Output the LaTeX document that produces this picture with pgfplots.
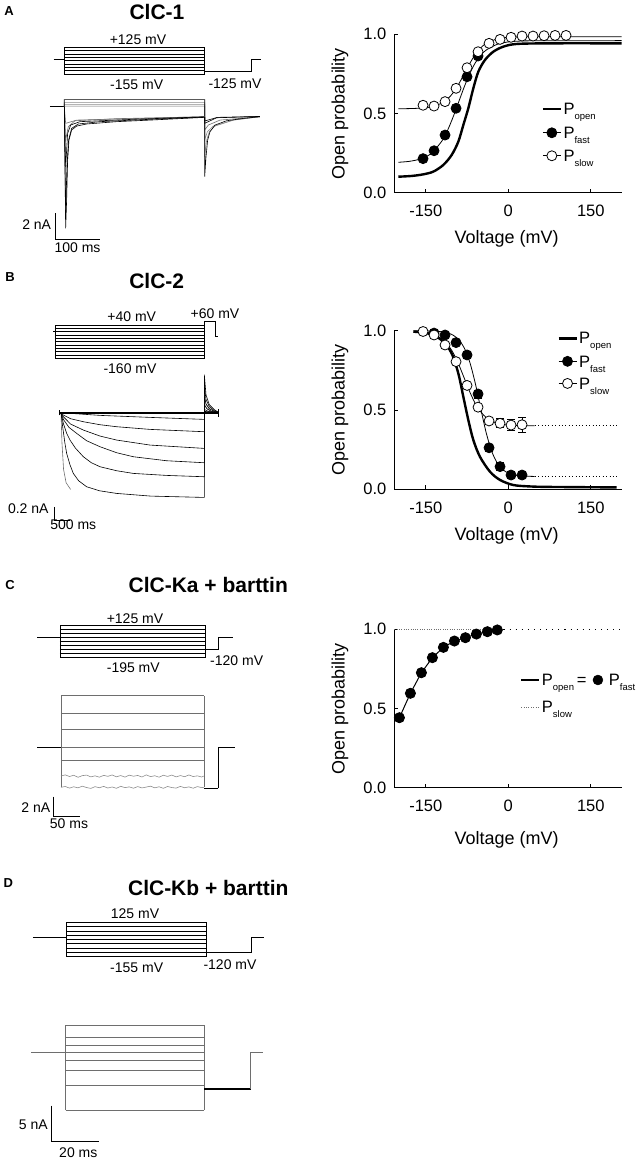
\documentclass[border=0pt]{standalone}
\usepackage{fontspec}
\setmainfont{Liberation Sans}
\usepackage{pgfplots}
\pgfplotsset{compat=1.18}
\definecolor{tg}{RGB}{110,110,110}
\definecolor{tl}{RGB}{140,140,140}
\newcommand\Psub[1]{P\raisebox{-5pt}{\fontsize{9.5}{10}\selectfont #1}}
\pgfplotsset{
  trace/.style={hide axis, clip=false, anchor=south west},
  pr/.style={black, line width=0.7pt, mark=none},
  tr/.style={black, line width=0.6pt, mark=none},
  trg/.style={tg, line width=0.6pt, mark=none},
  trl/.style={tl, line width=0.6pt, mark=none},
  sb/.style={black, line width=0.9pt, mark=none},
  op/.style={
    anchor=south west, clip=false,
    x=0.55pt, xmin=-207, xmax=206, ymin=0, ymax=1,
    axis x line*=bottom, axis y line*=left,
    axis line style={black, line width=0.8pt},
    tick align=inside, major tick length=4pt,
    tick style={black, line width=0.8pt},
    xtick={-150,0,150}, ytick={0,0.5,1},
    yticklabel style={/pgf/number format/fixed, /pgf/number format/fixed zerofill, /pgf/number format/precision=1},
    /pgf/number format/assume math mode=true,
    tick label style={font=\fontsize{16.5}{18}\selectfont},
    xticklabel style={yshift=-9pt},
    yticklabel style={xshift=-4.5pt},
    label style={font=\fontsize{18}{20}\selectfont},
    xlabel={Voltage (mV)}, ylabel={Open probability},
    ylabel style={at={(axis description cs:-0.2397,0.5)}, anchor=center},
    legend cell align=left,
    legend image code/.code={\draw[mark repeat=2,mark phase=2,##1] plot coordinates {(0pt,0pt) (9pt,0pt) (18pt,0pt)};},
    legend style={draw=none, fill=none, inner sep=0pt, outer sep=0pt, anchor=north west,
      font=\fontsize{16.5}{18}\selectfont, nodes={inner sep=0pt, text depth=}, row sep=0pt, column sep=1.5pt},
  },
  fitl/.style={black, line width=0.8pt, mark=none, smooth},
  thk/.style={black, line width=2.4pt, mark=none, smooth},
  fd/.style={black, line width=0.8pt, only marks, mark=*, mark size=5pt, mark options={fill=black}},
  sd/.style={black, line width=0.8pt, only marks, mark=*, mark size=5pt, mark options={fill=white}},
}
\begin{document}
\begin{tikzpicture}
\useasboundingbox (0pt,0pt) rectangle (639pt,-1160pt);

% ================= A: protocol =================
\begin{axis}[trace, at={(46.3pt,-78.36pt)}, x=0.45pt, y=0.0953pt, xmin=-40, xmax=450, ymin=-200, ymax=150]
\addplot[pr] coordinates {(-24,0) (0,0)};
\addplot[pr] coordinates {(0,-155) (0,125) (312,125) (312,-155) (0,-155)};
\pgfplotsinvokeforeach{90,55,20,-15,-50,-85,-120}{\addplot[pr] coordinates {(0,#1) (312,#1)};}
\addplot[pr] coordinates {(312,-125) (416,-125) (416,0) (436,0)};
\end{axis}
% ================= A: currents =================
\begin{axis}[trace, at={(46.3pt,-249.7pt)}, x=0.45pt, y=13pt, xmin=-40, xmax=450, ymin=-11, ymax=1]
\addplot[tr] coordinates {(-32,0) (0,0)};
\addplot[trl] coordinates {(0,0) (0,0.31) (312,0.31) (312,-3.85) (316.4,-2.56) (322.3,-1.92) (334.9,-1.49) (375.6,-1.03) (434.8,-0.77)};
\addplot[trl] coordinates {(0,0) (0,0.18) (312,0.18) (312,-2.56) (317.9,-1.92) (331.2,-1.49) (375.6,-1.03) (434.8,-0.77)};
\addplot[trg] coordinates {(0,0) (0,0.05) (312,0.05) (312,-1.79) (320.1,-1.41) (346,-1.03) (434.8,-0.77)};
\addplot[tr] coordinates {(0,0) (0,0.55) (312,0.55) (312,-5.38) (314.9,-3.85) (318.6,-2.56) (323.8,-1.92) (334.9,-1.41) (360.8,-1.08) (397.8,-0.9) (434.8,-0.77)};
\addplot[trg] coordinates {(0,0) (3,-1.28) (27.4,-1.03) (312,-0.77)};
\addplot[trg] coordinates {(0,0) (3,-2.56) (8.9,-1.54) (23.7,-1.08) (116.3,-0.92) (312,-0.77)};
\addplot[tr] coordinates {(0,0) (3,-4.62) (7.4,-2.05) (14.1,-1.41) (34.8,-1.15) (153.3,-0.97) (312,-0.78)};
\addplot[tr] coordinates {(0,0) (3,-8.2) (5.9,-4.62) (9.6,-2.56) (16.3,-1.67) (31.1,-1.33) (79.3,-1.15) (190.4,-0.97) (312,-0.8) (312,-1.1) (340,-0.82) (434.8,-0.75)};
\addplot[tr] coordinates {(0,0) (3,-9.36) (5.2,-7.18) (7.4,-4.1) (10.4,-2.56) (16.3,-1.79) (27.4,-1.49) (49.6,-1.33) (116.3,-1.15) (190.4,-1.03) (312,-0.82) (312,-1.28) (338.6,-0.85) (434.8,-0.75)};
\addplot[sb] coordinates {(-20.7,-8.2) (-20.7,-10.2) (79.3,-10.2)};
\end{axis}

% ================= A: open probability =================
\begin{axis}[op, at={(394.45pt,-192.7pt)}, y=158.4pt,
  xlabel style={at={(axis description cs:0.494,-0.2936)}, anchor=center},
  legend style={at={(axis description cs:0.648,0.6054)}}]
\addlegendimage{black, line width=2.4pt}
\addlegendentry{\rule[-5.5pt]{0pt}{23pt}\Psub{open}}
\addlegendimage{black, line width=0.8pt, mark=*, mark size=5pt, mark options={fill=black}}
\addlegendentry{\rule[-5.5pt]{0pt}{23pt}\Psub{fast}}
\addlegendimage{black, line width=0.8pt, mark=*, mark size=5pt, mark options={fill=white}}
\addlegendentry{\rule[-5.5pt]{0pt}{23pt}\Psub{slow}}
\addplot[thk, forget plot] coordinates {(-200,0.101) (-175,0.106) (-154.5,0.116) (-136.4,0.133) (-118.2,0.175) (-103,0.238) (-90.9,0.322) (-81.8,0.427) (-72.7,0.533) (-63.6,0.659) (-54.5,0.764) (-42.4,0.838) (-27.3,0.89) (-9.1,0.922) (15.2,0.939) (75.8,0.943) (206,0.943)};
\addplot[fitl, forget plot] coordinates {(-200,0.192) (-180,0.198) (-160,0.213) (-140,0.248) (-120,0.330) (-110,0.397) (-100,0.481) (-90,0.575) (-80,0.669) (-70,0.753) (-60,0.820) (-50,0.868) (-40,0.901) (-20,0.937) (0,0.952) (20,0.957) (50,0.959) (206,0.96)};
\addplot[fitl, forget plot] coordinates {(-200,0.530) (-180,0.531) (-160,0.534) (-140,0.542) (-120,0.567) (-110,0.593) (-100,0.632) (-90,0.687) (-80,0.751) (-70,0.816) (-60,0.873) (-50,0.915) (-40,0.943) (-20,0.971) (0,0.981) (20,0.984) (50,0.985) (206,0.985)};
\addplot[fd, forget plot] coordinates {(-155,0.215) (-135,0.265) (-115,0.364) (-95,0.533) (-75,0.732) (-55,0.863)};
\addplot[sd, forget plot] coordinates {(-155,0.552) (-135,0.547) (-115,0.575) (-95,0.659) (-75,0.789) (-55,0.89) (-35,0.943) (-15,0.968) (5,0.981) (25,0.989) (45,0.989) (65,0.991) (85,0.993) (105,0.993)};
\end{axis}

% ================= B: protocol =================
\begin{axis}[trace, at={(48.3pt,-365pt)}, x=0.0333pt, y=0.1667pt, xmin=-200, xmax=5200, ymin=-200, ymax=80]
\addplot[pr] coordinates {(-50,0) (0,0)};
\addplot[pr] coordinates {(0,-160) (0,40) (4500,40) (4500,-160) (0,-160)};
\pgfplotsinvokeforeach{20,0,-20,-40,-60,-80,-100,-120,-140}{\addplot[pr] coordinates {(0,#1) (4500,#1)};}
\addplot[pr] coordinates {(4500,-160) (4500,60) (4830,60) (4830,-30) (4900,-30)};
\end{axis}
% ================= B: currents =================
\begin{axis}[trace, at={(51.4pt,-526.1pt)}, x=0.032pt, y=66.7pt, xmin=-300, xmax=5000, ymin=-1.7, ymax=0.7]
\addplot[trl] coordinates {(4479,0.12) (4560,0.06) (4700,0.02) (4896,0.005)};
\addplot[trl] coordinates {(4479,0.25) (4531,0.13) (4635,0.06) (4792,0.02) (4896,0.01)};
\addplot[trg] coordinates {(0,0) (30,-0.45) (80,-0.85) (160,-1.05) (300,-1.15)};
\addplot[tr] coordinates {(0,0) (1219,-0.04) (2781,-0.07) (4479,-0.1) (4479,0.02) (4896,0)};
\addplot[tr] coordinates {(0,0) (73,-0.035) (300,-0.09) (698,-0.135) (1219,-0.18) (1740,-0.21) (2781,-0.25) (4479,-0.285) (4479,0.05) (4600,0.02) (4896,0)};
\addplot[tr] coordinates {(0,0) (73,-0.06) (300,-0.17) (698,-0.26) (1219,-0.35) (1740,-0.41) (2781,-0.485) (4479,-0.535) (4479,0.12) (4560,0.06) (4700,0.02) (4896,0.005)};
\addplot[tr] coordinates {(0,0) (73,-0.1) (250,-0.22) (490,-0.31) (800,-0.42) (1219,-0.51) (1740,-0.6) (2260,-0.66) (3300,-0.72) (4479,-0.75) (4479,0.25) (4531,0.13) (4635,0.06) (4792,0.02) (4896,0.01)};
\addplot[tr] coordinates {(0,0) (73,-0.16) (177,-0.31) (281,-0.41) (450,-0.53) (698,-0.66) (950,-0.75) (1219,-0.81) (1740,-0.87) (2260,-0.91) (3300,-0.94) (4479,-0.96) (4479,0.4) (4531,0.2) (4635,0.09) (4792,0.03) (4896,0.01)};
\addplot[tr] coordinates {(0,0) (52,-0.21) (120,-0.45) (177,-0.61) (280,-0.78) (385,-0.91) (550,-1.02) (802,-1.11) (1200,-1.17) (1740,-1.21) (2800,-1.25) (4479,-1.27) (4479,0.57) (4531,0.27) (4635,0.12) (4792,0.045) (4896,0.015)};
\addplot[black, line width=1.6pt] coordinates {(-52,0) (4900,0)};
\addplot[tr] coordinates {(-52,-0.04) (-52,0.04)};
\addplot[tr] coordinates {(4900,-0.06) (4900,0.06)};
\addplot[sb] coordinates {(-219,-1.41) (-219,-1.609) (281,-1.609)};
\end{axis}

% ================= B: open probability =================
\begin{axis}[op, at={(394.45pt,-489.3pt)}, y=158.6pt,
  xlabel style={at={(axis description cs:0.494,-0.293)}, anchor=center},
  legend style={at={(axis description cs:0.717,1.0277)}}]
\addlegendimage{black, line width=2.4pt}
\addlegendentry{\rule[-5pt]{0pt}{22pt}\Psub{open}}
\addlegendimage{black, line width=0.8pt, mark=*, mark size=5pt, mark options={fill=black}}
\addlegendentry{\rule[-5pt]{0pt}{22pt}\Psub{fast}}
\addlegendimage{black, line width=0.8pt, mark=*, mark size=5pt, mark options={fill=white}}
\addlegendentry{\rule[-5pt]{0pt}{22pt}\Psub{slow}}
\addplot[black, line width=0.8pt, dash pattern=on 0.8pt off 2.6pt, forget plot] coordinates {(48,0.40) (197,0.40)};
\addplot[black, line width=0.8pt, dash pattern=on 0.8pt off 2.6pt, forget plot] coordinates {(48,0.08) (197,0.08)};
\addplot[thk, forget plot] coordinates {(-172.7,0.994) (-155,0.988) (-136.4,0.973) (-118.2,0.931) (-103,0.857) (-90.9,0.731) (-81.8,0.584) (-72.7,0.437) (-63.6,0.311) (-51.5,0.205) (-33.3,0.111) (-15.1,0.059) (9.1,0.027) (40,0.018) (75.8,0.015) (197,0.012)};
\addplot[fitl, forget plot] coordinates {(-172,1.0) (-150,0.999) (-130,0.997) (-110,0.986) (-100,0.971) (-90,0.943) (-80,0.891) (-70,0.801) (-60,0.668) (-50,0.507) (-40,0.354) (-30,0.238) (-20,0.165) (-10,0.124) (0,0.102) (10,0.091) (25,0.084) (48,0.081)};
\addplot[fitl, forget plot] coordinates {(-172,0.998) (-160,0.995) (-140,0.983) (-120,0.948) (-110,0.912) (-100,0.859) (-90,0.786) (-80,0.70) (-70,0.614) (-60,0.541) (-50,0.488) (-40,0.452) (-30,0.430) (-20,0.417) (-10,0.410) (0,0.405) (20,0.402) (48,0.401)};
\addplot[forget plot, only marks, mark=none, error bars/.cd, y dir=both, y explicit,
  error bar style={black, solid, line width=0.8pt}, error mark options={black, rotate=90, mark size=4pt, line width=0.8pt}]
  coordinates {(-55,0.601) +- (0,0.025) (-35,0.262) +- (0,0.02) (-15,0.143) +- (0,0.025) (-35,0.431) +- (0,0.022) (-15,0.416) +- (0,0.028) (5,0.405) +- (0,0.034) (25,0.407) +- (0,0.047)};
\addplot[fd, forget plot] coordinates {(-135,0.985) (-115,0.973) (-95,0.925) (-75,0.847) (-55,0.601) (-35,0.262) (-15,0.143) (5,0.09) (25,0.09)};
\addplot[sd, forget plot] coordinates {(-155,0.995) (-135,0.973) (-115,0.91) (-95,0.805) (-75,0.655) (-55,0.518) (-35,0.431) (-15,0.416) (5,0.405) (25,0.407)};
\end{axis}

% ================= C: protocol =================
\begin{axis}[trace, at={(28pt,-662.95pt)}, x=0.533pt, y=0.101pt, xmin=-60, xmax=340, ymin=-250, ymax=150]
\addplot[pr] coordinates {(-42.6,0) (0,0)};
\addplot[pr] coordinates {(0,-195) (0,125) (272,125) (272,-195) (0,-195)};
\pgfplotsinvokeforeach{85,45,5,-35,-75,-115,-155}{\addplot[pr] coordinates {(0,#1) (272,#1)};}
\addplot[pr] coordinates {(272,-120) (298,-120) (298,0) (325,0)};
\end{axis}
% ================= C: currents =================
\begin{axis}[trace, at={(29pt,-824.66pt)}, x=0.533pt, y=9.67pt, xmin=-60, xmax=340, ymin=-8, ymax=6]
\addplot[tr] coordinates {(-44.4,0) (0,0)};
\pgfplotsinvokeforeach{5.34,3.52,1.86,0,-1.39}{\addplot[trg] coordinates {(0,#1) (268,#1)};}
\addplot[trg] coordinates {(0,-4.14) (0,5.34)};
\addplot[trg] coordinates {(268,-4.14) (268,5.34)};
\addplot[trl] coordinates {(0,-2.97) (8,-2.85) (16,-3.02) (24,-2.89) (32,-3.10) (40,-2.93) (48,-2.87) (56,-3.06) (64,-2.95) (72,-3.09) (80,-2.90) (88,-3.00) (96,-2.86) (104,-3.05) (112,-2.92) (120,-3.08) (128,-2.88) (136,-2.99) (144,-2.91) (152,-3.07) (160,-2.85) (168,-3.03) (176,-2.94) (184,-3.09) (192,-2.89) (200,-3.01) (208,-2.87) (216,-3.06) (224,-2.92) (232,-3.04) (240,-2.86) (248,-3.02) (256,-2.95) (264,-3.07) (268,-2.97)};
\addplot[trl] coordinates {(0,-4.14) (8,-4.05) (16,-4.22) (24,-4.08) (32,-4.19) (40,-4.02) (48,-4.16) (56,-4.25) (64,-4.07) (72,-4.18) (80,-4.04) (88,-4.21) (96,-4.10) (104,-4.24) (112,-4.03) (120,-4.17) (128,-4.09) (136,-4.23) (144,-4.06) (152,-4.20) (160,-4.11) (168,-4.02) (176,-4.19) (184,-4.08) (192,-4.24) (200,-4.05) (208,-4.16) (216,-4.22) (224,-4.04) (232,-4.18) (240,-4.09) (248,-4.23) (256,-4.06) (264,-4.17) (268,-4.14)};
\addplot[black, line width=1.5pt] coordinates {(268,-4.24) (295,-4.24)};
\addplot[tr] coordinates {(295,-4.24) (295,0) (326,0)};
\addplot[sb] coordinates {(-14.4,-5.11) (-14.4,-7.1) (35.6,-7.1)};
\end{axis}

% ================= C: open probability =================
\begin{axis}[op, at={(394.45pt,-787.7pt)}, y=158.4pt,
  xlabel style={at={(axis description cs:0.494,-0.33)}, anchor=center},
  legend columns=2,
  legend style={at={(axis description cs:0.5527,0.7557)}, row sep=4pt}]
\addlegendimage{black, line width=2.4pt}
\addlegendentry{\rule[-5pt]{0pt}{22pt}\Psub{open}\,=\hspace*{5pt}\mbox{}}
\addlegendimage{only marks, mark=*, mark size=5pt, mark options={fill=black}}
\addlegendentry{\rule[-5pt]{0pt}{22pt}\hspace{4.5pt}\Psub{fast}}
\addlegendimage{tg, line width=0.8pt, dash pattern=on 0.8pt off 1.6pt}
\addlegendentry{\rule[-5pt]{0pt}{22pt}\Psub{slow}}
\addplot[tg, line width=0.7pt, dash pattern=on 0.7pt off 1.6pt, forget plot] coordinates {(-207,1.0) (-20,1.0)};
\addplot[black, line width=0.9pt, dash pattern=on 1.1pt off 5pt, forget plot] coordinates {(-20,1.0) (206,1.0)};
\addplot[black, line width=1pt, mark=*, mark size=5pt, mark options={fill=black}, forget plot] coordinates {(-198,0.442) (-178,0.596) (-158,0.726) (-138,0.821) (-118,0.886) (-98,0.926) (-78,0.947) (-58,0.97) (-38,0.985) (-20,0.996)};
\end{axis}

% ================= D: protocol =================
\begin{axis}[trace, at={(19.3pt,-962.22pt)}, x=2.37pt, y=0.1226pt, xmin=-20, xmax=90, ymin=-200, ymax=150]
\addplot[pr] coordinates {(-14.3,0) (0,0)};
\addplot[pr] coordinates {(0,-155) (0,125) (58.8,125) (58.8,-155) (0,-155)};
\pgfplotsinvokeforeach{90,55,20,-15,-50,-85,-120}{\addplot[pr] coordinates {(0,#1) (58.8,#1)};}
\addplot[pr] coordinates {(58.8,-120) (78,-120) (78,0) (83.4,0)};
\end{axis}
% ================= D: currents =================
\begin{axis}[trace, at={(18.3pt,-1146.3pt)}, x=2.37pt, y=7.2pt, xmin=-20, xmax=90, ymin=-13, ymax=5]
\addplot[trg] coordinates {(-14.6,0) (0,0)};
\pgfplotsinvokeforeach{3.85,2.13,0.97,0,-1.02,-2.41,-4.58,-7.96}{\addplot[trg] coordinates {(0,#1) (58.5,#1)};}
\addplot[trg] coordinates {(0,-7.96) (0,3.85)};
\addplot[trg] coordinates {(58.5,-7.96) (58.5,3.85)};
\addplot[black, line width=1.5pt] coordinates {(58.5,-5.05) (78,-5.05)};
\addplot[trg] coordinates {(78,-5.05) (78,0) (83.4,0)};
\addplot[sb] coordinates {(-5.9,-7.36) (-5.9,-12.36) (14.1,-12.36)};
\end{axis}

% ================= texts =================
\tikzset{pl/.style={font=\bfseries\fontsize{13}{13}\selectfont, inner sep=0pt},
         ti/.style={font=\bfseries\fontsize{21}{21}\selectfont, inner sep=0pt},
         an/.style={font=\fontsize{14}{14}\selectfont, inner sep=0pt}}
\node[pl] at (9pt,-11pt) {A};
\node[ti] at (157pt,-11.7pt) {ClC-1};
\node[an] at (138pt,-39.3pt) {+125 mV};
\node[an] at (136.7pt,-85pt) {-155 mV};
\node[an] at (235pt,-83.3pt) {-125 mV};
\node[an] at (36.7pt,-225pt) {2 nA};
\node[an] at (77.5pt,-248pt) {100 ms};

\node[pl] at (10pt,-276.7pt) {B};
\node[ti] at (156.7pt,-280.7pt) {ClC-2};
\node[an] at (131.7pt,-316.7pt) {+40 mV};
\node[an] at (215pt,-313.3pt) {+60 mV};
\node[an] at (130pt,-369pt) {-160 mV};
\node[an] at (28.3pt,-509pt) {0.2 nA};
\node[an] at (73.3pt,-525pt) {500 ms};

\node[pl] at (10pt,-585pt) {C};
\node[ti] at (208.3pt,-585pt) {ClC-Ka + barttin};
\node[an] at (135pt,-618.3pt) {+125 mV};
\node[an] at (133.3pt,-667.7pt) {-195 mV};
\node[an] at (236.7pt,-660.7pt) {-120 mV};
\node[an] at (35.8pt,-807.5pt) {2 nA};
\node[an] at (69pt,-824pt) {50 ms};

\node[pl] at (8.3pt,-883.3pt) {D};
\node[ti] at (208.3pt,-887.7pt) {ClC-Kb + barttin};
\node[an] at (135pt,-914pt) {125 mV};
\node[an] at (136.7pt,-967.7pt) {-155 mV};
\node[an] at (230pt,-965pt) {-120 mV};
\node[an] at (33.3pt,-1125pt) {5 nA};
\node[an] at (78.3pt,-1152.5pt) {20 ms};
\end{tikzpicture}
\end{document}
